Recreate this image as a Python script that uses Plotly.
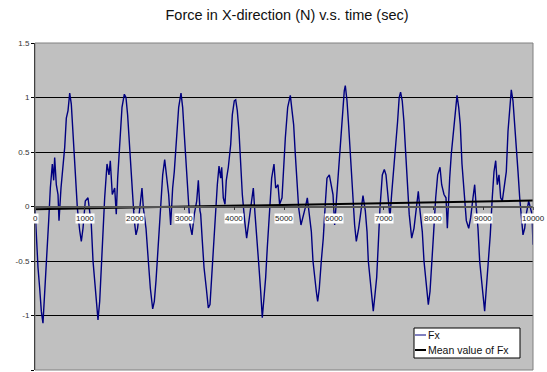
import plotly.graph_objects as go

# ---- data ----
time = [
    0, 27, 60, 94, 127, 160, 195, 214, 241, 275, 308, 348, 375, 395, 428, 462, 482, 522,
    596, 629, 663, 697, 729, 763, 810, 850, 897, 930, 964, 1010, 1064, 1131, 1165, 1199,
    1231, 1265, 1299, 1331, 1365, 1399, 1446, 1486, 1512, 1552, 1600, 1632,
    1660, 1707, 1747, 1794, 1827, 1860, 1893, 1928, 1960, 1994, 2028, 2060, 2108, 2148,
    2175, 2229, 2276, 2316, 2363, 2396, 2430, 2476, 2516, 2564, 2604, 2644, 2684, 2724,
    2764, 2797, 2851, 2885, 2932, 2965, 2998, 3032, 3066, 3112, 3153, 3199, 3247, 3280,
    3313, 3327,
    3360, 3394, 3440, 3480, 3514, 3548, 3580, 3628, 3661, 3695, 3729, 3749, 3781, 3815,
    3841, 3882, 3930, 3962, 4002, 4030, 4062, 4096, 4130, 4163, 4210, 4250, 4297, 4351,
    4384, 4418, 4464, 4498, 4532, 4564, 4598, 4632, 4664, 4712, 4752, 4799, 4833, 4880,
    4912, 4960,
    4993, 5027, 5074, 5127, 5161, 5194, 5227, 5261, 5294, 5341, 5382, 5428, 5468, 5508,
    5549, 5582, 5616, 5649, 5676, 5709, 5749, 5789, 5829, 5863, 5910, 5950, 5984, 6017,
    6050, 6097, 6137, 6177, 6210, 6231, 6265, 6297, 6345, 6378, 6418, 6452, 6499, 6546,
    6586, 6633, 6667,
    6693, 6727, 6761, 6793, 6827, 6861, 6893, 6928, 6974, 7014, 7048, 7082, 7128, 7161,
    7193, 7241, 7281, 7313, 7341, 7374, 7408, 7441, 7482, 7514, 7564, 7610, 7651, 7697,
    7731, 7777, 7811, 7845, 7877, 7898, 7932, 7966, 7998, 8046, 8086, 8133, 8166, 8213,
    8253, 8280, 8313,
    8327, 8359, 8407, 8440, 8474, 8508, 8540, 8574, 8614, 8661, 8709, 8749, 8795, 8829,
    8861, 8895, 8929, 8961, 8996, 9029, 9061, 9096, 9142, 9182, 9217, 9251, 9283, 9317,
    9351, 9383, 9418, 9464, 9498, 9532, 9564, 9598, 9632, 9665, 9699, 9733, 9765, 9799,
    9833, 9865, 9913, 9945, 9980, 10000,
]
fx = [
    -0.01, -0.32, -0.56, -0.75, -0.96, -1.07, -0.81, -0.62, -0.38, -0.13, 0.17, 0.39, 0.24, 0.45, 0.20, 0.11, -0.13, 0.17,
    0.54, 0.81, 0.88, 1.04, 0.94, 0.69, 0.36, -0.01, -0.22, -0.32, -0.20, 0.05, 0.08, -0.17, -0.50, -0.68,
    -0.87, -1.04, -0.87, -0.56, -0.32, 0.08, 0.39, 0.29, 0.42, 0.11, 0.17, -0.07,
    0.26, 0.63, 0.91, 1.03, 1.00, 0.84, 0.63, 0.39, 0.11, -0.13, -0.26, -0.20, 0.02, 0.17,
    -0.01, -0.20, -0.50, -0.75, -0.94, -0.87, -0.68, -0.32, 0.02, 0.29, 0.43, 0.24, 0.11, -0.17,
    0.17, 0.32, 0.63, 0.91, 1.04, 0.91, 0.66, 0.42, 0.08, -0.17, -0.26, -0.07, 0.05, 0.24,
    -0.04, -0.07,
    -0.32, -0.56, -0.75, -0.93, -0.90, -0.65, -0.32, -0.07, 0.20, 0.37, 0.26, 0.36, 0.08, 0.02,
    0.24, 0.36, 0.57, 0.84, 0.97, 0.98, 0.88, 0.69, 0.42, 0.11, -0.13, -0.29, -0.13, 0.08,
    0.17, -0.07, -0.32, -0.56, -0.78, -1.02, -0.84, -0.65, -0.38, -0.07, 0.26, 0.39, 0.17, 0.20,
    0.02, 0.08,
    0.39, 0.63, 0.91, 1.02, 0.88, 0.75, 0.48, 0.20, -0.01, -0.17, -0.10, -0.01, 0.08, -0.07,
    -0.23, -0.50, -0.68, -0.78, -0.87, -0.75, -0.50, -0.29, 0.02, 0.26, 0.29, 0.17, 0.11, -0.17,
    0.05, 0.29, 0.54, 0.88, 1.06, 1.11, 0.97, 0.75, 0.39, 0.08, -0.17, -0.32, -0.20, -0.04,
    0.10, -0.04, -0.23,
    -0.50, -0.65, -0.81, -0.96, -0.81, -0.65, -0.35, -0.01, 0.29, 0.34, 0.29, 0.11, -0.10, 0.11,
    0.29, 0.48, 0.78, 1.00, 1.05, 0.97, 0.78, 0.51, 0.17, -0.07, -0.29, -0.20, -0.04, 0.14,
    -0.04, -0.23, -0.50, -0.68, -0.78, -0.90, -0.78, -0.56, -0.29, 0.08, 0.29, 0.36, 0.20, 0.11,
    0.08, -0.20, 0.17,
    0.26, 0.48, 0.72, 0.91, 1.02, 0.91, 0.75, 0.39, 0.11, -0.13, -0.20, -0.10, 0.08, 0.20,
    -0.01, -0.20, -0.50, -0.68, -0.81, -0.96, -0.78, -0.56, -0.26, 0.08, 0.32, 0.42, 0.20, 0.29,
    0.08, 0.05, 0.17, 0.32, 0.69, 0.88, 1.07, 0.97, 0.78, 0.54, 0.32, 0.08, -0.13, -0.26,
    -0.20, -0.07, 0.05, -0.01, -0.07, -0.35,
]
mean_time = [0, 10000]
mean_fx = [-0.025, 0.055]

x_ticks = [0, 1000, 2000, 3000, 4000, 5000, 6000, 7000, 8000, 9000, 10000]
y_ticks = [-1.5, -1, -0.5, 0, 0.5, 1, 1.5]
y_tick_labels = ["-1.5", "-1", "-0.5", "0", "0.5", "1", "1.5"]

FONT = "Liberation Sans, Arial, sans-serif"

fig = go.Figure()
fig.add_trace(go.Scatter(x=time, y=fx, mode="lines", name="Fx",
                         line=dict(color="#000080", width=1.4)))
fig.add_trace(go.Scatter(x=mean_time, y=mean_fx, mode="lines", name="Mean value of Fx",
                         line=dict(color="#000000", width=2)))

fig.update_layout(
    width=547, height=372,
    margin=dict(l=35, r=14, t=43, b=2),
    paper_bgcolor="white", plot_bgcolor="#C0C0C0",
    showlegend=False,
    font=dict(family=FONT, color="#222222"),
    title=dict(text="Force in X-direction (N) v.s. time (sec)",
               x=287 / 547, xref="container", xanchor="center",
               y=1 - 15 / 372, yref="container", yanchor="middle",
               font=dict(size=14.5, color="#111111", family=FONT)),
    xaxis=dict(range=[0, 10000], tickvals=x_ticks, showticklabels=False,
               showgrid=False, zeroline=False, showline=True,
               linecolor="#555555", linewidth=1.5,
               anchor="free", position=0.5,
               ticks="outside", ticklen=3, tickcolor="#333333"),
    yaxis=dict(range=[-1.5, 1.5], tickvals=y_ticks, ticktext=y_tick_labels,
               showgrid=True, gridcolor="#000000", gridwidth=1,
               zeroline=False, showline=True, linecolor="#000000", linewidth=1,
               ticks="outside", ticklen=3, tickcolor="#000000",
               tickfont=dict(size=8, color="#333333", family=FONT)),
)

# x tick labels drawn at y=0 with white boxes (Excel style)
for v in x_ticks:
    fig.add_annotation(x=v, y=0, xref="x", yref="y", text=str(v), showarrow=False,
                       yshift=-12, bgcolor="white", borderpad=0,
                       font=dict(size=8, color="#222222", family=FONT))

# plot area border (top/right)
fig.add_shape(type="rect", xref="paper", yref="paper", x0=0, x1=1, y0=0, y1=1,
              line=dict(color="#808080", width=1), layer="above")

# custom legend box
lx0, lx1 = (414 - 35) / 498, (520 - 35) / 498
ly_top, ly_bot = 1 - (328 - 43) / 327, 1 - (358 - 43) / 327
fig.add_shape(type="rect", xref="paper", yref="paper", x0=lx0, x1=lx1, y0=ly_bot, y1=ly_top,
              line=dict(color="#000000", width=1), fillcolor="white", layer="above")
row1 = 1 - (335 - 43) / 327
row2 = 1 - (350 - 43) / 327
sx0, sx1 = (415 - 35) / 498, (426 - 35) / 498
fig.add_shape(type="line", xref="paper", yref="paper", x0=sx0, x1=sx1, y0=row1, y1=row1,
              line=dict(color="#000080", width=1), layer="above")
fig.add_shape(type="line", xref="paper", yref="paper", x0=sx0, x1=sx1, y0=row2, y1=row2,
              line=dict(color="#000000", width=2), layer="above")
for name, yy in (("Fx", row1), ("Mean value of Fx", row2)):
    fig.add_annotation(x=(426 - 35) / 498, y=yy, xref="paper", yref="paper", text=name,
                       showarrow=False, xanchor="left", yanchor="middle",
                       font=dict(size=10.5, color="#111111", family=FONT))

fig.write_html("out.html", config={"displayModeBar": False},
               post_script="document.body.style.margin='0';document.body.style.overflow='hidden';")
